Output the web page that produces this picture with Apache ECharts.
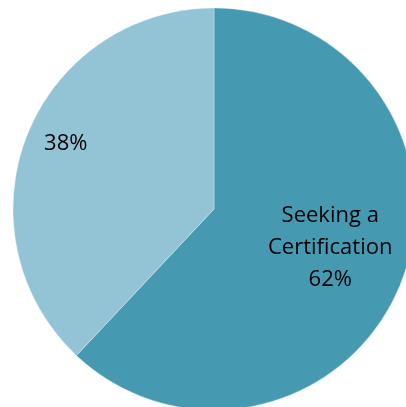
<!DOCTYPE html>
<html><head><meta charset="utf-8">
<script src="https://cdn.jsdelivr.net/npm/echarts@6/dist/echarts.min.js"></script>
<style>html,body{margin:0;padding:0;background:#fff}#c{width:406px;height:407px}</style>
</head><body><div id="c"></div>
<script>
const categories = ['Seeking a\nCertification', ''];
const values = [62, 38];
const colors = ['#4599B0', '#93C4D6'];
const labelOffsets = [[20, 1], [-52, -27]];

const chart = echarts.init(document.getElementById('c'), null, {renderer: 'canvas'});
chart.setOption({
  animation: false,
  series: [{
    type: 'pie',
    center: [214, 209],
    radius: 201,
    startAngle: 90,
    clockwise: true,
    data: categories.map((c, i) => ({
      name: c, value: values[i],
      itemStyle: {color: colors[i]},
      label: {offset: labelOffsets[i]}
    })),
    itemStyle: {borderColor: 'rgba(255,255,255,0.5)', borderWidth: 0.6},
    label: {
      show: true, position: 'inside', color: '#000',
      fontFamily: 'Open Sans', fontSize: 22, lineHeight: 32,
      formatter: p => (p.name ? p.name + '\n' : '') + p.percent.toFixed(0) + '%'
    },
    labelLine: {show: false},
    emphasis: {disabled: true}
  }]
});
</script></body></html>
